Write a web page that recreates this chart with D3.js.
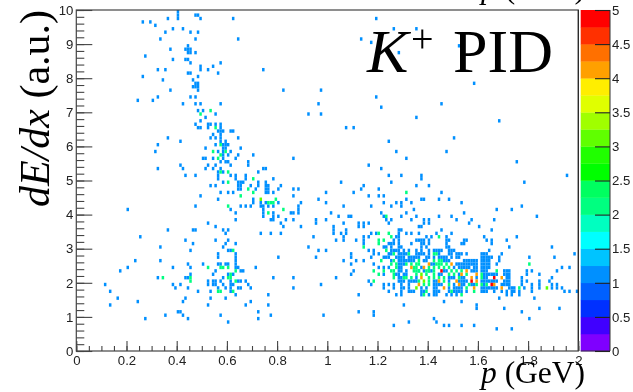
<!DOCTYPE html>
<html><head><meta charset="utf-8">
<script src="https://cdn.jsdelivr.net/npm/d3@7"></script>
<style>html,body{margin:0;padding:0;background:#fff;overflow:hidden}svg{display:block;filter:blur(0.35px)}</style>
</head><body><svg id="c" width="633" height="392"></svg>
<script>
// Histogram cells: each row is [dE/dx, [p, p, ...]], grouped by count.
const count1 = [
[9.95,[.40]],[9.85,[.40,.475,.485]],[9.75,[.40,.36,.49,.62,1.19]],[9.65,[.26,.30]],[9.55,[.31]],[9.45,[.385,.425,1.265,1.355]],
[9.35,[.35,.45,.485]],[9.15,[.335,.475,.64,1.135]],[9.05,[1.175]],[8.95,[.445,1.52]],[8.85,[.375,.435,.445,.455]],[8.75,[.445,.455,.475,1.28]],
[8.65,[.275]],[8.55,[.385,.435,.445]],[8.45,[.455,.575]],[8.35,[.54,.49]],[8.25,[.49,.325,.355,.525,.745]],[8.15,[.445,.455,.565]],
[8.05,[.265,.485]],[7.95,[.345,.465]],[7.85,[.475,.485,1.58]],[7.75,[.465,.475,.485]],[7.65,[.485,.375,.82,.97]],[7.45,[.325,.455,.475,1.19]],
[7.35,[.245,.305]],[7.25,[.425,.475,.49,.575,.96,1.455]],[7.15,[1.215]],[7.05,[.485,.50]],[6.95,[.555,.925,.97]],[6.85,[.515,1.355]],
[6.75,[.495,1.685]],[6.65,[.475,.525,.535,.555,.575]],[6.55,[.485,.495,.525,.575,1.075,1.105]],[6.45,[.565,.575,.585,.615,.625]],
[6.35,[.575,.54]],[6.25,[.535,.555,.575,.365,.645,1.50]],[6.15,[.595,.415,.575,1.245]],[6.05,[.325,.555,.585,.595,.605]],
[5.95,[.515,.585,.595,.655]],[5.85,[.315,.565,.585,.615,1.275,1.475]],[5.75,[.585,.605,.645,.705]],[5.65,[.50,.515,.54,.585,.63,.865,1.315]],
[5.55,[.575,.595,.605,.685,1.755]],[5.45,[.685,.415,.525,.555,.615,1.165]],[5.35,[.325,.425,.515,.54,.575,.745,.755,1.215]],
[5.25,[.565,.585,.72]],[5.15,[.435,.475,.565,.615,.63,.67,1.245,1.295,1.375,1.95]],[5.05,[.565,.63,.67,.78,1.375]],
[4.95,[.585,.645,.655,.665,.725,.755,1.05,1.255,1.785]],[4.85,[.535,.555,.645,.655,.695,.72,.755,.765,.81,1.14,1.355,1.405]],
[4.75,[.645,.655,.715,.755,.765,.80,.865,.885,1.135,1.205]],[4.65,[.575,.605,.625,.755,.765,.78,.995,1.105,1.455]],
[4.55,[.495,.865,1.165,1.205,1.225]],[4.45,[.565,.705,.96,1.315,1.375,1.385,1.445,1.485]],
[4.35,[.705,.755,.735,.80,.895,.995,1.225,1.275,1.295,1.335,1.535]],[4.25,[.475,.655,.67,.695,.735,.745,.765,.785,.885,1.065,1.175,1.255,1.295,1.775]],
[4.15,[.205,.615,.745,.885,1.345,1.67,1.735]],[4.05,[.63,.745,.785,.855,.865,.885,1.015,1.215,1.315,1.545]],
[3.95,[.745,.785,.80,1.04,1.085,1.095,1.225,1.295,1.355,1.445,1.495,1.83]],[3.85,[.63,.775,.785,.83,.865,.955,.995,1.235,1.255,1.335,1.385,1.405,1.515,1.575,1.66]],
[3.75,[.525,.815,.955,1.065,1.125,1.145,1.165,1.245,1.385,1.405,1.565]],[3.65,[.555,.82,.895,1.025,1.125,1.145,1.375,1.365,1.60]],
[3.55,[.365,.465,.475,.585,.605,1.025,1.075,1.285,1.295,1.65,1.455]],[3.45,[.595,.735,.775,.81,1.025,1.055,1.075,1.175,1.19,1.285,1.315,1.335,1.365,1.43,1.495]],
[3.35,[.255,.945,1.065,1.145,1.165,1.275,1.285,1.395,1.415,1.475,1.625,1.755]],[3.25,[.435,.555,.605,1.035,1.065,1.115,1.145,1.265,1.285,1.355,1.365,1.375,1.385,1.405,1.475,1.485,1.545,1.555,1.635,1.65,1.71]],
[3.15,[.465,.595,.63,1.145,1.245,1.255,1.265,1.285,1.335,1.375,1.385,1.405,1.475,1.535,1.545,1.65]],[3.05,[.335,.585,.925,1.225,1.235,1.255,1.285,1.295,1.375,1.395,1.475,1.485,1.725,1.89]],
[2.95,[.455,.605,.615,.96,.995,1.165,1.185,1.255,1.275,1.305,1.325,1.375,1.405,1.435,1.445,1.485,1.495,1.64,1.265,1.285,1.355,1.425,1.455,1.505]],
[2.85,[.565,.63,1.095,1.185,1.205,1.245,1.285,1.305,1.355,1.375,1.405,1.485,1.515,1.535,1.555,1.61,1.63,1.695,1.98,1.255,1.295,1.315,1.365,1.385,1.445,1.495,1.525,1.62]],
[2.75,[.565,.63,.805,.955,1.095,1.17,1.225,1.245,1.275,1.295,1.325,1.345,1.365,1.395,1.425,1.445,1.455,1.475,1.495,1.515,1.61,1.63,1.65,1.685,1.80,1.90,1.235,1.285,1.305,1.335,1.355,1.405,1.465,1.525,1.62,1.64]],
[2.65,[.235,.335,.63,1.065,1.115,1.145,1.255,1.285,1.305,1.325,1.345,1.395,1.475,1.485,1.555,1.575,1.595,1.61,1.63,1.68,1.295,1.315,1.335,1.385,1.465,1.545,1.565,1.585,1.62,1.64]],
[2.55,[.445,.50,.565,.575,.595,.605,.63,1.095,1.185,1.295,1.425,1.515,1.535,1.555,1.575,1.595,1.61,1.64,1.67,1.285,1.305,1.415,1.525,1.545,1.565,1.585,1.62,1.63]],
[2.45,[.205,.385,.455,.63,.64,.715,1.205,1.225,1.245,1.295,1.50,1.525,1.545,1.565,1.595,1.61,1.63,1.64,1.93,1.965,1.285,1.375,1.535,1.555,1.585,1.62]],
[2.35,[.17,.555,.655,.665,1.105,1.295,1.315,1.365,1.405,1.475,1.575,1.595,1.61,1.63,1.70,1.72,1.79,1.81,1.91,1.285,1.385,1.415,1.465,1.585,1.62,1.71]],
[2.25,[.54,.455,.605,.625,1.095,1.225,1.285,1.315,1.445,1.63,1.65,1.67,1.70,1.72,1.79,1.84,1.275,1.305,1.455,1.525,1.62,1.64,1.66,1.71]],
[2.15,[.325,.435,.445,.585,.78,.865,1.035,1.285,1.355,1.485,1.50,1.545,1.595,1.63,1.72,1.775,1.895,1.295,1.495,1.535,1.62,1.71]],
[2.05,[.525,.54,.555,.575,.615,.645,.655,.67,1.165,1.285,1.305,1.325,1.345,1.425,1.485,1.535,1.555,1.61,1.63,1.65,1.67,1.70,1.72,1.775,1.79,1.84,1.885,1.295,1.335,1.355,1.435,1.525,1.545,1.62,1.64,1.66,1.71]],
[1.95,[.115,.385,.415,.525,.54,.555,.585,.615,.625,.685,.97,1.175,1.225,1.245,1.265,1.295,1.325,1.425,1.455,1.50,1.545,1.69,1.70,1.72,1.775,1.81,1.84,1.895,1.915,1.435,1.445,1.535,1.575,1.585,1.62,1.71]],
[1.85,[.39,.445,.565,.595,.615,.645,.655,.695,.865,1.225,1.265,1.295,1.325,1.375,1.395,1.425,1.485,1.515,1.535,1.61,1.63,1.65,1.67,1.72,1.74,1.785,1.81,1.84,1.895,1.915,1.935,1.305,1.435,1.505,1.525,1.62,1.64,1.66,1.73]],
[1.75,[.135,.485,.535,.615,1.245,1.295,1.325,1.345,1.375,1.425,1.445,1.485,1.515,1.535,1.555,1.61,1.63,1.66,1.69,1.71,1.73,1.74,1.76,1.81,1.945,1.965,1.995,1.335,1.385,1.435,1.505,1.525,1.62]],
[1.65,[.76,.63,1.125,1.275,1.295,1.375,1.405,1.425,1.435,1.475,1.495,1.515,1.71,1.73,1.76]],
[1.55,[.165,.435,.535,.595,1.685,1.825]],[1.45,[.245,.425,.695,1.465,1.535]],[1.35,[.135,.525,.67,.76,1.30,1.595]],
[1.25,[1.595,1.70,1.84,1.92]],[1.15,[.72,.405,.415,1.125,1.185,1.775]],[1.05,[.355,.425,.575,.775,.985,1.185]],
[.95,[.275,.445,.72,1.42,1.80]],[.85,[.605,1.325,1.435]],[.75,[1.265,1.465,1.485,1.535,1.585]],[.65,[1.67,1.735]]
];
const count2 = [
[7.05,[.535]],[6.95,[.495]],[6.55,[.555]],[6.05,[.575]],[5.85,[.54,.595]],[5.75,[.575]],[5.65,[.565]],[5.25,[.575,.605]],
[5.05,[.705]],[4.95,[.605]],[4.75,[.685]],[4.65,[.705,1.315]],[4.55,[.655]],[4.45,[.795]],[4.35,[.765,.775,.785]],[4.25,[.605]],[4.15,[.82]],[4.05,[.765]],
[3.95,[1.235]],[3.45,[1.20,1.245]],[3.35,[1.255,1.445]],[3.25,[1.205,1.225]],[3.15,[1.205]],[3.05,[1.145]],[2.95,[.625,1.235]],
[2.85,[1.265,1.325,1.425,1.435]],[2.65,[1.215,1.265,1.365,1.455,1.425,1.445]],[2.55,[1.255,1.275,1.315,1.335,1.355,1.365,1.455,1.475,1.80,1.435,1.445]],
[2.45,[.525,.575,.585,.605,1.275,1.345,1.355,1.405,1.425,1.445,1.465,1.485]],[2.35,[.63,1.185,1.225,1.255,1.265,1.345,1.355,1.395,1.425,1.495,1.515,1.67,1.365,1.405,1.535]],
[2.25,[.615,1.205,1.265,1.355,1.395,1.425,1.485,1.50,1.555,1.61]],[2.15,[.345,.455,.605,.615,1.265,1.305,1.315,1.335,1.405,1.425,1.445,1.465,1.525,1.61]],
[2.05,[.63,.455,1.185,1.365,1.405,1.465]],[1.95,[1.385,1.405,1.485,1.565,1.595,1.61,1.63]],[1.85,[1.555,1.76]],[1.75,[.565,.575,.625,1.395,1.495,1.585]],
[1.65,[1.385,1.535]]
];
const count3 = [[4.45,[.735]],[2.25,[1.375]],[2.05,[1.385]],[1.85,[1.355,1.875]]];
const count4 = [
[2.55,[1.405,1.495]],[2.45,[1.335,1.385]],[2.35,[1.555]],[2.25,[1.535,1.595]],[2.15,[1.375,1.575,1.69]],
[2.05,[1.445,1.515,1.595]],[1.95,[1.365,1.525,1.66]],[1.85,[1.465,1.585,1.69]]
];
const count5 = [[2.35,[1.455]],[2.15,[1.66]],[2.05,[1.57]],[1.95,[1.65]]];
const cellGroups = [[1,count1],[2,count2],[3,count3],[4,count4],[5,count5]];

const xMajor = [0,.2,.4,.6,.8,1,1.2,1.4,1.6,1.8,2];
const yMajor = [0,1,2,3,4,5,6,7,8,9,10];
const zMajor = [0,.5,1,1.5,2,2.5,3,3.5,4,4.5,5];
const palette = ["#7f00ff","#4000ff","#0030ff","#0060ff","#0090ff","#00c4ff","#00ffff","#00ffc0","#00ff80","#00ff60","#00ff00","#20ff00","#60ff00","#a0ff00","#e0ff00","#ffee00","#ffa000","#ff7000","#ff3000","#ff0000"];

const svg = d3.select("#c");
const x = d3.scaleLinear().domain([0,2]).range([76.3,578.3]);
const y = d3.scaleLinear().domain([0,10]).range([351,10]);
const zy = y.copy().domain([0,5]);
const color = d3.scaleQuantize().domain([0,5]).range(palette);
const pBin = .01, yBin = .1;

const cells = cellGroups.flatMap(([n,rows]) => rows.flatMap(([d,ps]) => ps.map(p => ({
  n, p0: Math.round((p-.005)/pBin)*pBin, y0: Math.round((d-.05)/yBin)*yBin }))));
svg.append("g").selectAll("rect").data(cells).join("rect")
  .attr("x",d=>x(d.p0)).attr("width",x(pBin)-x(0))
  .attr("y",d=>y(d.y0+yBin)).attr("height",y(0)-y(yBin))
  .attr("fill",d=>color(d.n+.01));

// frame
const ink = "#444", tickFont = '13.2px "Liberation Sans", Arial, sans-serif';
svg.append("rect").attr("x",x(0)).attr("y",y(10)).attr("width",x(2)-x(0)).attr("height",y(0)-y(10))
  .attr("fill","none").attr("stroke",ink).attr("stroke-width",1.2);
svg.append("line").attr("x1",x(2)).attr("x2",x(2)).attr("y1",y(10)).attr("y2",y(0)).attr("stroke","#222").attr("stroke-width",1);

function style(g){ g.select(".domain").remove(); g.selectAll("line").attr("stroke",ink).attr("stroke-width",1.1);
  g.selectAll("text").style("font",tickFont).attr("fill","#222"); return g; }

svg.append("g").attr("transform",`translate(0,${y(0)})`)
  .call(d3.axisBottom(x).tickValues(d3.range(0,2.001,.05)).tickSize(-5).tickFormat("")).call(style);
svg.append("g").attr("transform",`translate(0,${y(0)})`)
  .call(d3.axisBottom(x).tickValues(xMajor).tickSize(-10).tickPadding(5).tickFormat(d3.format("~g"))).call(style);
svg.append("g").attr("transform",`translate(${x(0)},0)`)
  .call(d3.axisLeft(y).tickValues(d3.range(0,10.01,.2)).tickSize(-8).tickFormat("")).call(style);
svg.append("g").attr("transform",`translate(${x(0)},0)`)
  .call(d3.axisLeft(y).tickValues(yMajor).tickSize(-16).tickPadding(3).tickFormat(d3.format("~g"))).call(style);

// colour bar
const barX0 = 580.7, barX1 = 610;
svg.append("g").selectAll("rect").data(palette).join("rect")
  .attr("x",barX0).attr("width",barX1-barX0)
  .attr("y",(d,i)=>zy((i+1)*.25)).attr("height",zy(0)-zy(.25)+.3)
  .attr("fill",d=>d);
svg.append("path").attr("d",`M${barX0},${zy(0)}H${barX1}V${zy(5)}`).attr("fill","none").attr("stroke","#333").attr("stroke-width",1);
svg.append("g").attr("transform",`translate(${barX1},0)`)
  .call(d3.axisRight(zy).tickValues(zMajor).tickSize(-15).tickPadding(2).tickFormat(d3.format("~g")))
  .call(g=>{style(g); g.selectAll("line").attr("stroke","#222");});

// titles
const serif = '"Liberation Serif","Times New Roman",serif';
function label(tx,ty,size,parts,rot){
  const t = svg.append("text").attr("font-family",serif).attr("font-size",size).attr("fill","#000")
    .attr("transform",`translate(${tx},${ty})`+(rot?` rotate(${rot})`:""));
  parts.forEach(([s,it])=>t.append("tspan").attr("font-style",it?"italic":"normal").text(s));
  return t;
}
label(367,71.5,62,[["K",1]]);
label(411,52,40,[["+",0]]);
label(453,71.5,62,[["PID",0]]);
label(49,207,42,[["dE/dx",1],[" (a.u.)",0]],-90);
label(481,383,31.5,[["p",1],[" (GeV)",0]]);
label(481,-2,31.5,[["p",1],[" (GeV)",0]]);
</script></body></html>
